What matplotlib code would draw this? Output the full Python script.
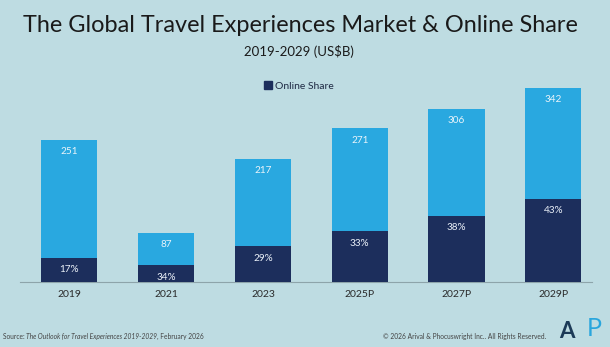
import matplotlib
matplotlib.use("Agg")
import matplotlib.pyplot as plt
from matplotlib.patches import Patch

# Market size (US$B) and online share by year
years = ["2019", "2021", "2023", "2025P", "2027P", "2029P"]
market_total = [251, 87, 217, 271, 306, 342]
online_share = [17, 34, 29, 33, 38, 43]

BG = "#BEDCE2"
LIGHT = "#29A8E0"
DARK = "#1C2E5C"
FONT = "Lato"

W, H = 610, 347
fig = plt.figure(figsize=(W / 100, H / 100), dpi=100, facecolor=BG)

ax = fig.add_axes([20 / W, 65 / H, 572 / W, 212 / H])
ax.set_facecolor(BG)

x = list(range(len(years)))
online_value = [t * s / 100 for t, s in zip(market_total, online_share)]

ax.bar(x, market_total, width=0.58, color=LIGHT, zorder=2)
ax.bar(x, online_value, width=0.58, color=DARK, zorder=3)

for xi, tot, sh, ov in zip(x, market_total, online_share, online_value):
    ax.annotate(f"{tot}", (xi, tot), xytext=(0, -8.5), textcoords="offset points",
                ha="center", va="center", color="#EAF4FA", fontsize=7.2,
                family=FONT, zorder=4)
    ax.annotate(f"{sh}%", (xi, ov), xytext=(0, -8.5), textcoords="offset points",
                ha="center", va="center", color="#EAF0F8", fontsize=7.2,
                family=FONT, zorder=4)

ax.set_xlim(-0.51, 5.40)
ax.set_ylim(0, 374)
ax.set_xticks(x)
ax.set_xticklabels(years, family=FONT, fontsize=7.5, color="#2A2A2A")
ax.tick_params(axis="x", length=0, pad=6)
ax.set_yticks([])
for side in ["top", "right", "left"]:
    ax.spines[side].set_visible(False)
ax.spines["bottom"].set_color("#8DA4AA")
ax.spines["bottom"].set_linewidth(0.8)

fig.legend(handles=[Patch(color=DARK, label="Online Share")],
           loc="center", bbox_to_anchor=(299 / W, 1 - 86 / H),
           frameon=False, handlelength=0.7, handleheight=0.7,
           handletextpad=0.3, prop={"family": FONT, "size": 7.5},
           labelcolor="#1F2A44")

fig.text(300 / W, 1 - 25 / H, "The Global Travel Experiences Market & Online Share",
         ha="center", va="center", fontsize=16.9, family=FONT, color="#1A1A1A")
fig.text(299 / W, 1 - 51 / H, "2019-2029 (US$B)",
         ha="center", va="center", fontsize=9.5, family=FONT, color="#1A1A1A")

# Footer: source line built from consecutive text pieces
foot_kw = dict(fontsize=4.8, family=FONT, color="#444444", va="baseline")
t1 = fig.text(3 / W, 1 - 339 / H, "Source: ", ha="left", **foot_kw)
t2 = fig.text(0, 0, "The Outlook for Travel Experiences 2019-2029",
              style="italic", ha="left", **foot_kw)
t3 = fig.text(0, 0, ", February 2026", ha="left", **foot_kw)
fig.canvas.draw()
r = fig.canvas.get_renderer()
inv = fig.transFigure.inverted()
bb1 = t1.get_window_extent(r)
t2.set_position((inv.transform((bb1.x1, 0))[0], 1 - 339 / H))
bb2 = t2.get_window_extent(r)
t3.set_position((inv.transform((bb2.x1, 0))[0], 1 - 339 / H))

fig.text(546 / W, 1 - 339 / H,
         "\u00a9 2026 Arival & Phocuswright Inc.. All Rights Reserved.",
         ha="right", **foot_kw)

# Logo letters
fig.text(567 / W, 1 - 331 / H, "A", ha="center", va="center", fontsize=16,
         family=FONT, weight="bold", color="#1C3A57")
fig.text(594 / W, 1 - 329 / H, "P", ha="center", va="center", fontsize=18,
         family=FONT, color="#2AA6DD")

fig.savefig("out.png", dpi=100, facecolor=BG)
